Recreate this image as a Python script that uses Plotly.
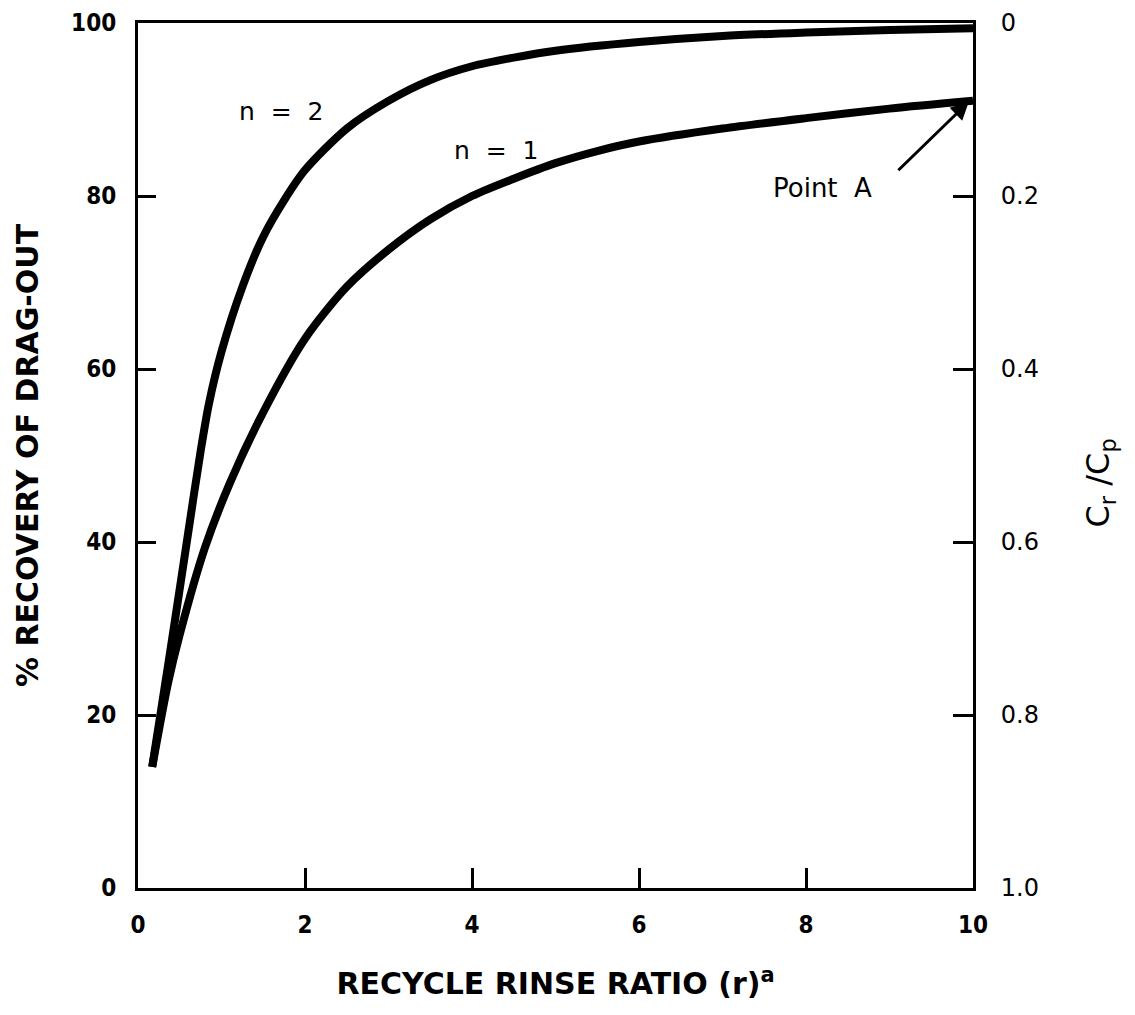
import plotly.graph_objects as go

# Recycle rinse ratio (r) and % recovery of drag-out
r_n1 = [0.17, 0.36, 0.5, 0.8, 1.1, 1.5, 2.0, 2.5, 3.0, 3.5, 4.0, 4.5, 5.0, 5.5, 6.0, 7.0, 8.0, 9.0, 10.0]
rec_n1 = [14, 23.7, 29.3, 39.3, 46.8, 55, 63.5, 69.5, 73.8, 77.3, 80, 82, 83.8, 85.2, 86.3, 87.8, 89, 90.1, 91.0]

r_n2 = [0.17, 0.3, 0.42, 0.6, 0.75, 0.85, 1.0, 1.25, 1.5, 1.75, 2.0, 2.5, 3.0, 3.5, 4.0, 4.5, 5.0, 6.0, 7.0, 8.0, 9.0, 10.0]
rec_n2 = [14, 22, 29.5, 41, 50.5, 56, 62, 69.5, 75.3, 79.5, 83, 87.8, 91, 93.4, 95, 96, 96.8, 97.8, 98.5, 98.9, 99.2, 99.4]

x_ticks = [0, 2, 4, 6, 8, 10]
y_ticks = [0, 20, 40, 60, 80, 100]
y2_ticks = [0, 0.2, 0.4, 0.6, 0.8, 1.0]
y2_labels = ["0", "0.2", "0.4", "0.6", "0.8", "1.0"]

COND = "DejaVu Sans Condensed, Liberation Sans Narrow, DejaVu Sans, sans-serif"
SANS = "DejaVu Sans, sans-serif"

fig = go.Figure()
fig.add_trace(go.Scatter(x=r_n2, y=rec_n2, mode="lines",
                         line=dict(color="black", width=8, shape="spline", smoothing=0.8),
                         showlegend=False, hoverinfo="skip"))
fig.add_trace(go.Scatter(x=r_n1, y=rec_n1, mode="lines",
                         line=dict(color="black", width=8, shape="spline", smoothing=0.8),
                         showlegend=False, hoverinfo="skip"))
# invisible trace to activate right axis
fig.add_trace(go.Scatter(x=[0, 10], y=[0, 1], yaxis="y2", mode="markers",
                         marker=dict(opacity=0), showlegend=False, hoverinfo="skip"))

fig.update_layout(
    width=1127, height=1007,
    margin=dict(l=130, r=162, t=15, b=127),
    paper_bgcolor="white", plot_bgcolor="white",
    font=dict(family=COND, color="black"),
    xaxis=dict(range=[0, 10], tickvals=x_ticks, ticktext=[str(v) for v in x_ticks],
               ticks="inside", ticklen=20, tickwidth=3, tickcolor="black",
               showline=True, linewidth=3, linecolor="black", mirror=True,
               showgrid=False, zeroline=False, automargin=False,
               tickfont=dict(size=24, family=COND, weight="bold"),
               ticklabelstandoff=13,
               title=dict(text="RECYCLE RINSE RATIO (r)<sup>a</sup>",
                          font=dict(size=30, family=SANS, weight="bold"),
                          standoff=36)),
    yaxis=dict(range=[0, 100], tickvals=y_ticks, ticktext=[str(v) for v in y_ticks],
               ticks="inside", ticklen=18, tickwidth=3, tickcolor="black",
               showline=True, linewidth=3, linecolor="black", mirror=True,
               showgrid=False, zeroline=False, automargin=False,
               tickfont=dict(size=24, family=COND, weight="bold"),
               ticklabelstandoff=14,
               title=dict(text="% RECOVERY OF DRAG-OUT",
                          font=dict(size=30, family=SANS, weight="bold"),
                          standoff=24)),
    yaxis2=dict(overlaying="y", side="right", range=[1.0, 0], tickvals=y2_ticks,
                ticktext=y2_labels, ticks="inside", ticklen=20, tickwidth=3,
                tickcolor="black", showline=True, linewidth=3, linecolor="black",
                showgrid=False, zeroline=False, automargin=False,
                tickfont=dict(size=24, family=SANS),
                ticklabelstandoff=20),
    annotations=[
        dict(x=1.72, y=89.8, xref="x", yref="y", text="n  =  2", showarrow=False,
             font=dict(size=25, family=SANS)),
        dict(x=4.29, y=85.3, xref="x", yref="y", text="n  =  1", showarrow=False,
             font=dict(size=25, family=SANS)),
        dict(x=8.2, y=80.9, xref="x", yref="y", text="Point  A", showarrow=False,
             font=dict(size=26, family=SANS)),
        dict(x=9.95, y=90.9, xref="x", yref="y", text="", showarrow=True,
             arrowhead=2, arrowsize=1.2, arrowwidth=3, arrowcolor="black",
             ax=-72, ay=70, axref="pixel", ayref="pixel"),
        # right axis title
        dict(x=1.18, y=0.468, xref="paper", yref="paper",
             text="C<sub>r</sub> /C<sub>p</sub>", textangle=-90, showarrow=False,
             font=dict(size=32, family=SANS)),
    ],
)

fig.write_html("out.html")
